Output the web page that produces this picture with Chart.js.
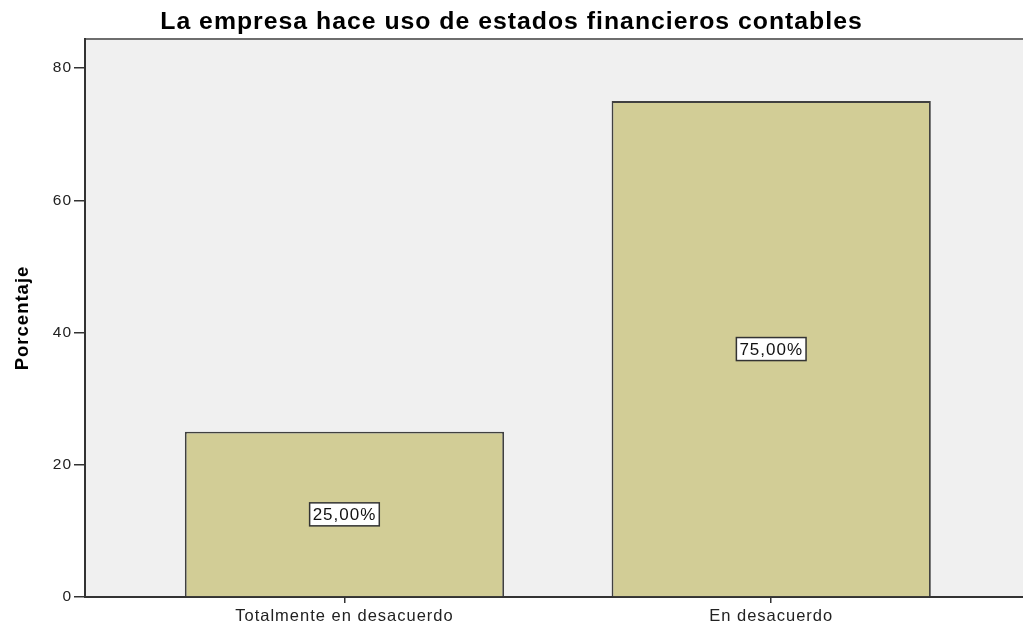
<!DOCTYPE html>
<html>
<head>
<meta charset="utf-8">
<script src="https://cdn.jsdelivr.net/npm/chart.js@4/dist/chart.umd.min.js"></script>
<style>
  html, body { margin: 0; padding: 0; background: #fff; }
  canvas { display: block; }
</style>
</head>
<body>
<canvas id="chart" width="1023" height="628"></canvas>
<script>
// data
const categories = ['Totalmente en desacuerdo', 'En desacuerdo'];
const percentages = [25, 75];
const pctLabels = ['25,00%', '75,00%'];
const yTicks = [0, 20, 40, 60, 80];
const chartTitle = 'La empresa hace uso de estados financieros contables';
const yAxisTitle = 'Porcentaje';

const FONT = "'Liberation Sans', Arial, sans-serif";
const letterSpacing = '1px';

// SPSS-like text is a bit wider than plain Arial
const spacingPlugin = {
    id: 'spacing',
    beforeUpdate(chart) { chart.ctx.letterSpacing = letterSpacing; },
    beforeDraw(chart) { chart.ctx.letterSpacing = letterSpacing; }
};

// grey plot background and the thin frame line on top
const backgroundPlugin = {
    id: 'plotBg',
    beforeDraw(chart) {
        const { ctx, chartArea: a } = chart;
        ctx.save();
        ctx.fillStyle = '#f0f0f0';
        ctx.fillRect(a.left, a.top, a.right - a.left, a.bottom - a.top);
        ctx.strokeStyle = '#6e6e6e';
        ctx.lineWidth = 2;
        ctx.beginPath();
        ctx.moveTo(a.left, a.top);
        ctx.lineTo(a.right, a.top);
        ctx.stroke();
        ctx.restore();
    }
};

// boxed percentage labels in the middle of each bar
const boxLabelPlugin = {
    id: 'boxLabels',
    afterDatasetsDraw(chart) {
        const ctx = chart.ctx;
        const xs = chart.scales.x, ys = chart.scales.y;
        ctx.save();
        ctx.letterSpacing = letterSpacing;
        ctx.font = '17px ' + FONT;
        ctx.textAlign = 'center';
        ctx.textBaseline = 'middle';
        percentages.forEach((v, i) => {
            const cx = xs.getPixelForValue(i);
            const cy = ys.getPixelForValue(v / 2);
            const w = ctx.measureText(pctLabels[i]).width + 6;
            const h = 23;
            ctx.fillStyle = '#ffffff';
            ctx.fillRect(cx - w / 2, cy - h / 2, w, h);
            ctx.strokeStyle = '#333333';
            ctx.lineWidth = 1.5;
            ctx.strokeRect(cx - w / 2, cy - h / 2, w, h);
            ctx.fillStyle = '#111111';
            ctx.fillText(pctLabels[i], cx, cy + 1);
        });
        ctx.restore();
    }
};

new Chart(document.getElementById('chart'), {
    type: 'bar',
    data: {
        datasets: [{
            data: percentages.map((v, i) => ({ x: i, y: v })),
            backgroundColor: '#d2cd96',
            borderColor: '#404040',
            borderWidth: 1.8,
            barPercentage: 0.748,
            categoryPercentage: 1
        }]
    },
    options: {
        responsive: false,
        devicePixelRatio: 1,
        animation: false,
        layout: { padding: { left: 0, right: 0, top: 0, bottom: 0 } },
        plugins: {
            legend: { display: false },
            tooltip: { enabled: false },
            title: {
                display: true,
                text: chartTitle,
                color: '#000',
                font: { family: FONT, size: 24.8, weight: 'bold' },
                padding: { top: 7, bottom: 2.2 }
            }
        },
        scales: {
            x: {
                type: 'linear',
                offset: false,
                min: -0.608,
                max: 1.59,
                afterBuildTicks: axis => { axis.ticks = categories.map((c, i) => ({ value: i })); },
                afterFit: axis => { axis.height = 31; },
                ticks: {
                    autoSkip: false,
                    maxRotation: 0,
                    padding: 4,
                    color: '#222',
                    font: { family: FONT, size: 16.5 },
                    callback: v => categories[v]
                },
                grid: { display: true, offset: false, drawOnChartArea: false, tickLength: 6, color: '#333', lineWidth: 1.5 },
                border: { display: true, color: '#333', width: 2 }
            },
            y: {
                min: 0,
                max: 84.4,
                afterBuildTicks: axis => { axis.ticks = yTicks.map(v => ({ value: v })); },
                afterFit: axis => { axis.width = 85; },
                ticks: {
                    padding: 2,
                    color: '#222',
                    font: { family: FONT, size: 15.5 }
                },
                grid: { display: true, drawOnChartArea: false, tickLength: 11, color: '#333', lineWidth: 1.5 },
                border: { display: true, color: '#333', width: 2 },
                title: {
                    display: true,
                    text: yAxisTitle,
                    color: '#000',
                    font: { family: FONT, size: 18.5, weight: 'bold' },
                    padding: { top: 12, bottom: 0 }
                }
            }
        }
    },
    plugins: [spacingPlugin, backgroundPlugin, boxLabelPlugin]
});
</script>
</body>
</html>
